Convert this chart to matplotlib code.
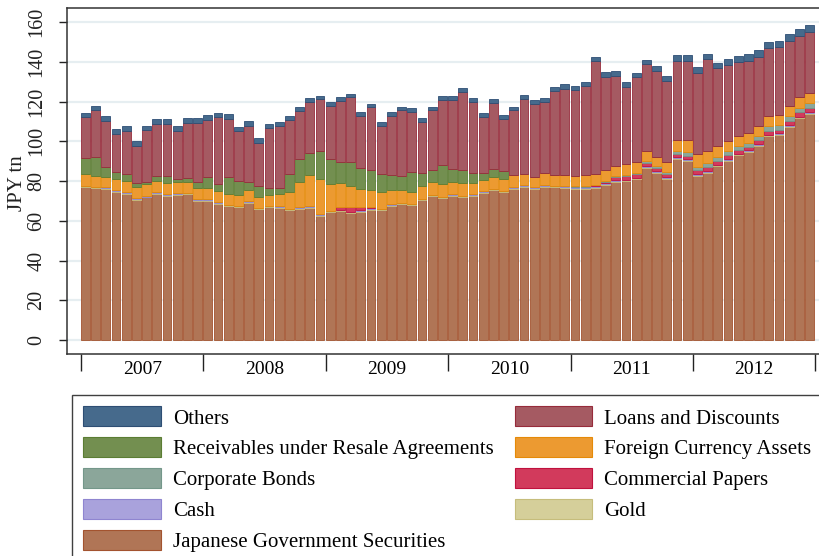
import numpy as np
import matplotlib.pyplot as plt
from matplotlib.patches import Patch

# --------------------------------------------------
# data: BoJ assets, monthly 2007-01 .. 2012-12 [JPY tn]
# --------------------------------------------------
years = ["2007", "2008", "2009", "2010", "2011", "2012"]

jgs = [76.9, 76.3, 76.0, 74.7, 73.7, 70.6, 71.7, 73.7, 72.5, 73.0, 73.3, 70.0,
       70.0, 68.6, 67.3, 66.8, 69.0, 65.8, 66.8, 66.6, 65.3, 66.0, 66.6, 62.4,
       64.3, 64.9, 63.9, 64.6, 65.6, 65.3, 67.5, 68.3, 67.8, 70.3, 72.3, 71.3,
       72.5, 71.8, 72.5, 74.0, 75.3, 74.3, 76.0, 77.0, 76.2, 77.2, 76.9, 76.7,
       76.2, 76.2, 76.7, 78.0, 79.7, 80.0, 80.9, 86.7, 84.2, 81.1, 91.1, 90.1,
       82.6, 84.2, 87.5, 90.2, 93.0, 94.7, 97.8, 102.6, 103.2, 107.4, 111.6, 113.8]
gold = [0.45, 0.45, 0.45, 0.45, 0.45, 0.45, 0.45, 0.45, 0.45, 0.45, 0.45, 0.45,
        0.45, 0.45, 0.45, 0.45, 0.45, 0.45, 0.45, 0.45, 0.45, 0.45, 0.45, 0.45,
        0.45, 0.45, 0.45, 0.45, 0.45, 0.45, 0.45, 0.45, 0.45, 0.45, 0.45, 0.45,
        0.45, 0.45, 0.45, 0.45, 0.45, 0.45, 0.45, 0.45, 0.45, 0.45, 0.45, 0.45,
        0.45, 0.45, 0.45, 0.45, 0.45, 0.45, 0.45, 0.45, 0.45, 0.45, 0.45, 0.45,
        0.45, 0.45, 0.45, 0.45, 0.45, 0.45, 0.45, 0.45, 0.45, 0.45, 0.45, 0.45]
cash = [0.3, 0.3, 0.3, 0.3, 0.3, 0.3, 0.3, 0.3, 0.3, 0.3, 0.3, 0.3,
        0.3, 0.3, 0.3, 0.3, 0.3, 0.3, 0.3, 0.3, 0.3, 0.3, 0.3, 0.3,
        0.4, 0.3, 0.3, 0.3, 0.35, 0.3, 0.3, 0.3, 0.3, 0.3, 0.3, 0.3,
        0.3, 0.3, 0.3, 0.3, 0.3, 0.3, 0.3, 0.3, 0.3, 0.3, 0.3, 0.3,
        0.3, 0.3, 0.3, 0.3, 0.3, 0.3, 0.3, 0.3, 0.3, 0.3, 0.3, 0.3,
        0.3, 0.3, 0.3, 0.3, 0.3, 0.3, 0.3, 0.3, 0.3, 0.3, 0.3, 0.3]
cp = [0, 0, 0, 0, 0, 0, 0, 0, 0, 0, 0, 0,
      0, 0, 0, 0, 0, 0, 0, 0, 0, 0, 0, 0,
      0, 1.4, 2.1, 1.4, 0.3, 0, 0, 0, 0, 0, 0, 0,
      0, 0, 0, 0, 0, 0, 0, 0, 0, 0, 0, 0,
      0, 0, 0.3, 0.8, 1.5, 1.8, 1.8, 1.8, 1.6, 1.5, 1.7, 1.8,
      2.3, 2.2, 2.0, 2.0, 1.8, 1.8, 2.0, 2.0, 1.9, 2.0, 2.2, 2.0]
corp = [0, 0, 0, 0, 0, 0, 0, 0, 0, 0, 0, 0,
        0, 0, 0, 0, 0, 0, 0, 0, 0, 0, 0, 0,
        0, 0, 0, 0, 0, 0, 0, 0, 0, 0, 0, 0,
        0, 0, 0, 0, 0, 0, 0, 0, 0, 0, 0, 0,
        0.4, 0.4, 0.4, 0.4, 0.4, 0.5, 0.6, 1.0, 1.0, 1.2, 1.7, 1.8,
        1.5, 1.7, 2.0, 2.1, 2.2, 2.0, 2.2, 2.3, 2.4, 2.5, 2.3, 2.8]
fx = [5.8, 5.6, 5.5, 5.7, 5.8, 5.6, 6.2, 5.5, 5.7, 5.9, 5.6, 5.8,
      5.5, 5.4, 5.4, 5.5, 5.5, 5.5, 5.3, 5.9, 8.5, 12.9, 15.8, 17.8,
      13.4, 11.9, 10.7, 9.2, 8.8, 8.4, 7.2, 6.4, 5.9, 6.6, 6.4, 6.4,
      6.4, 6.4, 5.9, 6.0, 5.9, 6.1, 6.2, 5.7, 5.2, 5.9, 5.5, 5.5,
      5.4, 5.7, 5.3, 5.5, 5.1, 5.5, 5.5, 4.8, 4.6, 5.1, 5.6, 6.4,
      6.2, 6.4, 5.3, 5.0, 4.9, 5.0, 4.9, 5.0, 5.0, 5.2, 5.5, 5.0]
resale = [7.9, 9.2, 4.6, 3.5, 3.1, 1.8, 0.8, 2.5, 3.5, 1.6, 2.1, 3.1,
          5.7, 3.7, 8.5, 6.7, 4.4, 5.4, 3.7, 3.3, 8.9, 11.5, 10.7, 14.1,
          12.7, 10.7, 11.9, 10.5, 10.2, 9.0, 7.7, 7.0, 9.9, 6.5, 6.2, 9.7,
          6.2, 6.4, 4.8, 3.1, 3.9, 3.7, 0, 0, 0, 0, 0, 0,
          0, 0, 0, 0, 0, 0, 0, 0, 0, 0, 0, 0,
          0, 0, 0, 0, 0, 0, 0, 0, 0, 0, 0, 0]
loans = [21.0, 23.7, 23.3, 18.9, 21.8, 18.8, 26.2, 26.2, 26.2, 23.9, 27.5, 29.3,
         28.9, 33.5, 29.4, 25.4, 28.1, 21.5, 29.9, 30.9, 27.2, 23.9, 25.7, 26.0,
         26.5, 30.6, 32.7, 26.5, 31.4, 24.3, 29.8, 33.1, 30.3, 25.5, 29.9, 32.6,
         34.9, 39.4, 35.9, 28.3, 33.2, 26.3, 32.6, 37.6, 36.4, 35.7, 41.9, 43.5,
         43.0, 44.9, 56.7, 47.0, 45.5, 38.7, 42.7, 43.6, 43.1, 40.6, 39.7, 39.7,
         40.8, 46.1, 39.1, 38.3, 37.0, 36.2, 34.7, 34.1, 34.1, 32.7, 30.7, 30.7]
others = [2.1, 2.1, 2.7, 2.4, 2.5, 2.5, 2.1, 2.3, 2.5, 2.3, 2.4, 2.5,
          2.3, 2.4, 2.3, 2.1, 2.4, 2.6, 2.0, 2.0, 2.0, 2.0, 2.0, 1.8,
          2.0, 2.0, 1.8, 1.9, 1.8, 2.1, 1.9, 1.6, 1.9, 2.0, 1.8, 1.8,
          1.8, 2.0, 2.0, 2.2, 2.0, 2.2, 1.8, 2.0, 2.2, 2.0, 2.4, 2.3,
          2.2, 2.1, 2.4, 2.3, 2.3, 2.5, 2.3, 2.4, 2.6, 2.7, 2.8, 2.8,
          3.0, 2.8, 2.8, 2.9, 3.2, 3.2, 3.4, 3.3, 3.3, 3.3, 3.4, 3.4]

# stacking order bottom -> top : (label, values, fill, edge)
series = [
    ("Japanese Government Securities", jgs, "#b07556", "#a3532f"),
    ("Gold", gold, "#d5cf9a", "#c6bd7c"),
    ("Cash", cash, "#a9a2dc", "#8f85d0"),
    ("Commercial Papers", cp, "#d23a5c", "#c0123e"),
    ("Corporate Bonds", corp, "#8ba69a", "#74978a"),
    ("Foreign Currency Assets", fx, "#ec9a31", "#e58a08"),
    ("Receivables under Resale Agreements", resale, "#738f50", "#5b7d33"),
    ("Loans and Discounts", loans, "#a55a62", "#972b3b"),
    ("Others", others, "#466a8c", "#2e4e74"),
]

plt.rcParams["font.family"] = ["Liberation Serif", "DejaVu Serif"]

fig = plt.figure(figsize=(8.2, 5.56), dpi=100)
W, H = 820, 556
ax = fig.add_axes([67 / W, 1 - 354 / H, (830 - 67) / W, (354 - 8) / H])

x = np.arange(len(jgs))
bottom = np.zeros(len(jgs))
for label, vals, fc, ec in series:
    v = np.array(vals, dtype=float)
    ax.bar(x, v, bottom=bottom, width=0.86, align="edge", color=fc,
           edgecolor=ec, linewidth=0.6, zorder=3)
    bottom += v

# axes
ax.set_xlim(-14 / 10.2, (830 - 81) / 10.2)
ax.set_ylim(-14 / 1.9875, 160 + 14 / 1.9875)

ax.set_yticks(np.arange(0, 161, 20))
ax.tick_params(axis="y", labelsize=14.5, length=6, width=1, pad=9, colors="#222222")
for t in ax.get_yticklabels():
    t.set_rotation(90)
    t.set_va("center")
ax.yaxis.grid(True, color="#e6eef1", linewidth=1.6, zorder=0)
ax.set_axisbelow(True)

ax.set_xticks(np.arange(0, 73, 12))
ax.set_xticklabels([])
ax.tick_params(axis="x", which="major", length=12, width=1, colors="#222222")
ax.set_xticks(np.arange(6, 72, 12), minor=True)
ax.set_xticklabels(years, minor=True)
ax.tick_params(axis="x", which="minor", length=0, pad=5, labelsize=14)

for s in ["left", "top", "bottom"]:
    ax.spines[s].set_color("#333333")
    ax.spines[s].set_linewidth(1.1)
ax.spines["right"].set_visible(False)

fig.text(18 / W, 1 - 183 / H, "JPY tn", rotation=90, va="center", ha="center",
         fontsize=15, color="#222222")

# legend (row-wise order like the original -> column-wise for matplotlib)
order = ["Others", "Receivables under Resale Agreements", "Corporate Bonds", "Cash",
         "Japanese Government Securities", "Loans and Discounts",
         "Foreign Currency Assets", "Commercial Papers", "Gold"]
lookup = {s[0]: s for s in series}
handles = [Patch(facecolor=lookup[n][2], edgecolor=lookup[n][3], linewidth=0.8)
           for n in order]
leg = fig.legend(handles, order, loc="upper left",
                 bbox_to_anchor=(72 / W, 1 - 395 / H), ncol=2, fontsize=15,
                 handlelength=3.7, handleheight=1.1, handletextpad=0.6,
                 labelspacing=0.42, columnspacing=1.0, borderpad=0.55,
                 borderaxespad=0, fancybox=False, framealpha=1)
leg.get_frame().set_edgecolor("#404040")
leg.get_frame().set_linewidth(1.0)

fig.savefig("out.png", dpi=100)
